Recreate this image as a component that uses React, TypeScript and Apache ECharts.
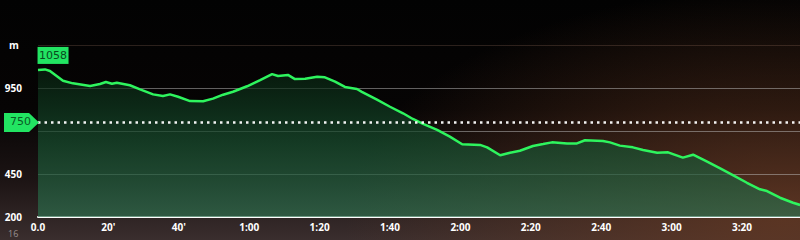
import React, { useEffect, useRef } from "react";
import * as echarts from "echarts";

// elapsed time (minutes) and elevation (m)
const times = [
  0, 2.0, 3.4, 7.1, 9.9, 14.8, 17.6, 19.3, 21.0, 22.4, 26.1, 29.0, 32.7, 35.5, 37.5, 39.8,
  43.2, 46.9, 49.7, 52.6, 55.4, 59.4, 63.1, 66.5, 68.2, 71.0, 73.0, 75.9, 79.3, 81.5, 84.4,
  87.2, 90.6, 92.0, 96.3, 100.0, 103.7, 106.5, 109.4, 113.4, 117.0, 120.5, 125.6, 127.6,
  131.3, 134.1, 136.9, 140.6, 143.5, 146.0, 150.3, 153.1, 155.4, 160.5, 162.5, 165.3, 169.0,
  171.9, 175.9, 179.0, 183.2, 186.1, 190.1, 193.8, 197.4, 201.4, 205.1, 207.1, 210.8, 214.5,
  216.5,
];
const elevations = [
  1054, 1058, 1049, 992, 977, 962, 973, 985, 975, 981, 966, 942, 913, 903, 913, 899,
  874, 873, 888, 911, 928, 960, 996, 1031, 1020, 1026, 1002, 1004, 1016, 1012, 987,
  956, 944, 928, 882, 841, 803, 770, 741, 706, 667, 623, 619, 605,
  559, 574, 585, 613, 624, 634, 628, 628, 646, 642, 634, 615, 605,
  590, 574, 576, 545, 562, 522, 483, 444, 399, 361, 351, 312, 283,
  270,
];
const yMin = 200;
const yMax = 1200;
const yStep = 250;
const xMax = 220;
const xStep = 20;
const referenceLevel = [750];
const hiddenYLabels = [700, 1200];
const unitLabel = "m";

const fmtTime = (v: number) => {
  if (v === 0) return "0.0";
  if (v < 60) return `${v}'`;
  const h = Math.floor(v / 60);
  const m = v % 60;
  return `${h}:${String(m).padStart(2, "0")}`;
};

export default function App() {
  const ref = useRef<HTMLDivElement>(null);
  useEffect(() => {
    if (!ref.current) return;
    const chart = echarts.init(ref.current, null, { renderer: "svg" });
    const data = times.map((t, i) => [t, elevations[i]]);
    const grid = "rgba(190,190,190,0.5)";
    chart.setOption({
      animation: false,
      backgroundColor: "transparent",
      grid: {
        left: 38,
        top: 45,
        width: xMax * 3.52,
        height: 172,
        containLabel: false,
        outerBoundsMode: "none",
      },
      xAxis: {
        type: "value",
        min: 0,
        max: xMax,
        interval: xStep,
        axisLine: { show: true, lineStyle: { color: "#ffffff", width: 2 } },
        axisTick: { show: false },
        splitLine: { show: false },
        axisLabel: {
          color: "#ffffff",
          fontSize: 10,
          fontWeight: "bold",
          fontFamily: "Open Sans",
          margin: 5,
          formatter: fmtTime,
        },
      },
      yAxis: {
        type: "value",
        min: yMin,
        max: yMax,
        interval: yStep,
        axisLine: { show: false },
        axisTick: { show: false },
        splitLine: {
          show: true,
          lineStyle: {
            color: ["rgba(0,0,0,0)", grid, grid, grid, "rgba(150,110,95,0.28)"],
            width: 1,
          },
        },
        axisLabel: {
          color: "#ffffff",
          fontSize: 10,
          fontWeight: "bold",
          fontFamily: "Open Sans",
          margin: 16,
          formatter: (v: number) => (hiddenYLabels.includes(v) ? "" : String(v)),
        },
      },
      series: [
        {
          type: "line",
          data,
          symbol: "none",
          lineStyle: { color: "#2ef45e", width: 2.5 },
          areaStyle: {
            color: new echarts.graphic.LinearGradient(0, 0, 0, 1, [
              { offset: 0, color: "rgba(8,34,16,1)" },
              { offset: 0.5, color: "rgba(22,78,46,1)" },
              { offset: 1, color: "rgba(46,110,78,1)" },
            ]),
          },
          z: 3,
          markPoint: {
            data: [{ type: "max" }],
            symbol: "rect",
            symbolSize: [31, 17],
            symbolOffset: [8, -14],
            itemStyle: { color: "#22e462" },
            label: {
              show: true,
              position: "inside",
              color: "#0a4a1e",
              fontSize: 11,
              fontFamily: "DejaVu Sans",
            },
          },
          markLine: {
            silent: true,
            symbol: "none",
            label: { show: false },
            lineStyle: { color: "#ffffff", width: 2.5, type: [2.5, 4], opacity: 0.95 },
            data: referenceLevel.map((v) => ({ yAxis: v })),
          },
        },
      ],
    });
    const yRef = chart.convertToPixel({ yAxisIndex: 0 }, referenceLevel[0]) as number;
    const x0 = chart.convertToPixel({ xAxisIndex: 0 }, 0) as number;
    chart.setOption({
      graphic: [
        {
          type: "polygon",
          z: 100,
          shape: {
            points: [
              [4, yRef - 9.5],
              [x0 - 9, yRef - 9.5],
              [x0 + 1, yRef],
              [x0 - 9, yRef + 9.5],
              [4, yRef + 9.5],
            ],
          },
          style: { fill: "#22e462" },
        },
        {
          type: "text",
          z: 101,
          x: 10,
          y: yRef - 6,
          style: {
            text: String(referenceLevel[0]),
            fill: "#0a5a24",
            font: "11px DejaVu Sans",
          },
        },
        {
          type: "text",
          z: 101,
          x: 9,
          y: 40,
          style: { text: unitLabel, fill: "#ffffff", font: "bold 10px Open Sans" },
        },
        {
          type: "text",
          z: 101,
          x: 8,
          y: 229,
          style: { text: "16", fill: "#9a9090", font: "9px Open Sans" },
        },
      ],
    });
    return () => chart.dispose();
  }, []);
  return (
    <div
      style={{
        position: "fixed",
        left: 0,
        top: 0,
        width: 800,
        height: 240,
        overflow: "hidden",
        background:
          "radial-gradient(ellipse 55% 95% at 98% 90%, rgba(105,58,34,0.75), rgba(0,0,0,0) 100%), linear-gradient(to bottom, #020202 0%, #060404 45%, #1c1414 75%, #3a2e2e 100%)",
      }}
    >
      <div ref={ref} style={{ width: 800, height: 240 }} />
    </div>
  );
}
